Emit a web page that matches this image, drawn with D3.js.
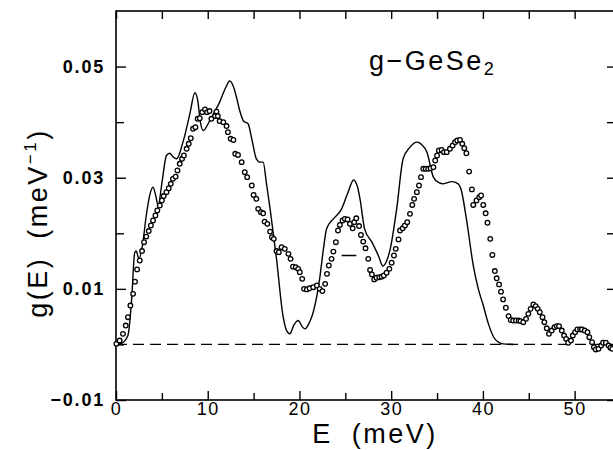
<!DOCTYPE html>
<html>
<head>
<meta charset="utf-8">
<script src="https://cdn.jsdelivr.net/npm/d3@7"></script>
<style>
  body { margin: 0; background: #fff; }
  text { font-family: "Liberation Sans", Arial, Helvetica, sans-serif; fill: #000; }
</style>
</head>
<body>
<div id="plot"></div>
<script>
// g-GeSe2 vibrational density of states
// solid line = calculation, circles = experiment

// calculated g(E)
var calcE = [0, 0.6, 1.3, 1.7, 2.04, 2.2, 2.5, 2.9, 3.3, 3.7, 4.04, 4.3, 4.6, 5.0, 5.5, 5.86, 6.2, 6.6,
  7.3, 8.04, 8.6, 8.9, 9.2, 9.5, 10.2, 10.8, 11.3, 11.9, 12.4, 12.8, 13.1, 13.5, 13.9, 14.4, 14.8,
  15.3, 15.7, 16.04, 16.4, 16.8, 17.5, 18.2, 18.6, 18.95, 19.4, 19.86, 20.3, 20.6, 21.1, 21.5, 22.2,
  22.6, 22.96, 23.7, 24.6, 25.3, 25.9, 26.3, 26.6, 27.1, 27.9, 28.6, 29.1, 29.5, 29.9, 30.6, 31.3,
  32.05, 32.8, 33.3, 33.9, 34.6, 35.2, 35.7, 36.6, 37.3, 37.6, 38.2, 38.95, 39.5, 40.04, 40.6, 41.3,
  42.2, 43.3];
var calcG = [0, 0.0002, 0.0016, 0.008, 0.0165, 0.0168, 0.0154, 0.018, 0.0232, 0.027, 0.0283, 0.027,
  0.025, 0.029, 0.034, 0.0344, 0.0338, 0.0334, 0.0364, 0.0414, 0.0453, 0.044, 0.040, 0.0385, 0.0402,
  0.042, 0.0436, 0.046, 0.0474, 0.0464, 0.0447, 0.042, 0.0402, 0.0397, 0.037, 0.0334, 0.0328, 0.0328,
  0.029, 0.0244, 0.0154, 0.0052, 0.0025, 0.0019, 0.0035, 0.0043, 0.0032, 0.0028, 0.004, 0.0058,
  0.0118, 0.017, 0.0208, 0.0226, 0.0244, 0.0274, 0.0296, 0.0285, 0.0262, 0.0208, 0.0184, 0.016,
  0.0141, 0.015, 0.0172, 0.0244, 0.0334, 0.0355, 0.0364, 0.036, 0.0346, 0.0301, 0.0291, 0.0289,
  0.0293, 0.0289, 0.028, 0.0226, 0.0142, 0.01, 0.007, 0.0037, 0.001, 0.0001, 0];

// measured g(E)
var expE = [0.04, 0.4, 0.76, 1.06, 1.3, 1.57, 1.86, 2.07, 2.3, 2.59, 2.84, 3.06, 3.3, 3.57, 3.8, 4.04,
  4.3, 4.5, 4.77, 5.0, 5.2, 5.5, 5.75, 5.97, 6.2, 6.5, 6.7, 6.95, 7.2, 7.4, 7.7, 7.93, 8.15, 8.4, 8.66,
  8.9, 9.13, 9.4, 9.7, 9.93, 10.2, 10.4, 10.8, 10.95, 11.1, 11.3, 11.7, 12.05, 12.2, 12.5, 12.8, 13.0,
  13.3, 13.7, 14.04, 14.3, 14.8, 15.0, 15.3, 15.5, 15.8, 16.04, 16.2, 16.5, 16.8, 17.0, 17.2, 17.5,
  17.75, 18.05, 18.4, 18.8, 19.03, 19.3, 19.6, 19.86, 20.04, 20.3, 20.5, 20.8, 21.1, 21.5, 21.9, 22.2,
  22.5, 22.8, 23.0, 23.2, 23.5, 23.7, 23.97, 24.2, 24.4, 24.7, 24.95, 25.25, 25.5, 25.8, 25.97, 26.2,
  26.5, 26.7, 26.95, 27.2, 27.5, 27.7, 27.9, 28.15, 28.4, 28.7, 28.96, 29.2, 29.5, 29.8, 30.05, 30.3,
  30.5, 30.8, 30.96, 31.25, 31.5, 31.75, 32.05, 32.3, 32.5, 32.8, 33.03, 33.25, 33.5, 33.76, 34.04,
  34.3, 34.6, 34.8, 35.0, 35.2, 35.5, 35.75, 36.05, 36.4, 36.7, 36.96, 37.2, 37.5, 37.75, 37.97, 38.2,
  38.5, 38.8, 38.95, 39.3, 39.6, 39.8, 40.04, 40.3, 40.5, 40.8, 41.03, 41.3, 41.5, 41.76, 41.97, 42.2,
  42.5, 42.8, 43.03, 43.3, 43.6, 43.9, 44.1, 44.4, 44.7, 44.95, 45.2, 45.5, 45.76, 45.98, 46.2, 46.5,
  46.7, 46.96, 47.2, 47.5, 47.8, 48.05, 48.3, 48.6, 48.85, 49.07, 49.3, 49.6, 49.8, 50.05, 50.3, 50.6,
  50.8, 51.1, 51.4, 51.6, 51.9, 52.1, 52.3, 52.6, 52.9, 53.1, 53.4, 53.7, 53.9, 54.1];
var expG = [0.0001, 0.0007, 0.0019, 0.0034, 0.0049, 0.007, 0.0091, 0.0113, 0.0135, 0.0151, 0.0168,
  0.0184, 0.0194, 0.0204, 0.0214, 0.0223, 0.0232, 0.0241, 0.025, 0.0259, 0.0267, 0.0274, 0.0281,
  0.0289, 0.0298, 0.0302, 0.0313, 0.0325, 0.0334, 0.034, 0.0352, 0.0361, 0.0371, 0.0388, 0.0391,
  0.0406, 0.0407, 0.0418, 0.0423, 0.0418, 0.042, 0.0406, 0.0411, 0.0419, 0.0411, 0.0402, 0.04,
  0.0393, 0.0382, 0.037, 0.0368, 0.0343, 0.0341, 0.0328, 0.031, 0.0301, 0.0286, 0.0269, 0.0262,
  0.0244, 0.0238, 0.0236, 0.0221, 0.0217, 0.0203, 0.0193, 0.019, 0.0168, 0.0166, 0.0175, 0.0172,
  0.0163, 0.0154, 0.014, 0.0139, 0.0136, 0.013, 0.0118, 0.01, 0.0099, 0.0101, 0.0103, 0.0106, 0.01,
  0.0096, 0.0109, 0.0127, 0.0142, 0.0154, 0.0167, 0.0184, 0.0205, 0.0215, 0.0223, 0.0226, 0.0225,
  0.0217, 0.0209, 0.022, 0.0227, 0.0213, 0.0197, 0.0185, 0.0173, 0.0154, 0.0134, 0.0126, 0.0117,
  0.012, 0.0121, 0.0122, 0.0124, 0.0129, 0.0136, 0.0147, 0.016, 0.0172, 0.0189, 0.0205, 0.0209,
  0.0214, 0.022, 0.0235, 0.0251, 0.0262, 0.0274, 0.0286, 0.0301, 0.0316, 0.0316, 0.0316, 0.0317,
  0.0319, 0.0331, 0.034, 0.0349, 0.035, 0.0346, 0.0346, 0.0352, 0.0358, 0.0364, 0.0367, 0.0368,
  0.0361, 0.0353, 0.0344, 0.0311, 0.0279, 0.0251, 0.0259, 0.0265, 0.0268, 0.0251, 0.0236, 0.0219,
  0.019, 0.0161, 0.0132, 0.0119, 0.0108, 0.0095, 0.0081, 0.0066, 0.0051, 0.0044, 0.0043, 0.0043,
  0.0043, 0.0042, 0.004, 0.0046, 0.0055, 0.0064, 0.0072, 0.0069, 0.0064, 0.0058, 0.0049, 0.004,
  0.0029, 0.0019, 0.0025, 0.0031, 0.0033, 0.0033, 0.0025, 0.0016, 0.001, 0.0003, 0.0007, 0.0016,
  0.0022, 0.0027, 0.0027, 0.0027, 0.0025, 0.0022, 0.0013, 0.0004, -0.0005, -0.0009, -0.0008,
  -0.0002, 0.0003, 0.0003, -0.0002, -0.0006, -0.0008];

// short horizontal marker inside the plot
var markE = [24.6, 26.2];
var markG = [0.016, 0.016];

// ticks
var xLabelTicks = [0, 10, 20, 30, 40, 50];
var xMinorTicks = [5, 15, 25, 35, 45];
var yLabelTicks = [-0.01, 0.01, 0.03, 0.05];
var yMinorTicks = [0.0, 0.02, 0.04];

// dimensions
var margin = {top: 11, right: -2, bottom: 50, left: 116};
const width = 613;
const height = 450;

const x = d3.scaleLinear().domain([0, 54.4]).range([margin.left, width - margin.right]);
const y = d3.scaleLinear().domain([-0.01, 0.06]).range([height - margin.bottom, margin.top]);

// svg container
const svg = d3.select("#plot")
    .append("svg")
    .attr("width", width)
    .attr("height", height);

// frame
svg.append("rect")
    .attr("x", x(0))
    .attr("y", y(0.06))
    .attr("width", x(54.4) - x(0))
    .attr("height", y(-0.01) - y(0.06))
    .attr("fill", "none")
    .attr("stroke", "#000")
    .attr("stroke-width", 1.6);

// axes, ticks pointing in
function styleAxis(g) {
    g.select(".domain").remove();
    g.selectAll(".tick line").attr("stroke", "#000").attr("stroke-width", 1.4);
}

svg.append("g")
    .attr("transform", "translate(0," + y(-0.01) + ")")
    .call(d3.axisBottom(x).tickValues(xLabelTicks).tickSize(-9).tickPadding(2).tickFormat(d3.format("d")))
    .call(styleAxis)
    .selectAll("text")
    .attr("font-size", "18px")
    .attr("letter-spacing", "1.5px");

svg.append("g")
    .attr("transform", "translate(0," + y(-0.01) + ")")
    .call(d3.axisBottom(x).tickValues(xMinorTicks).tickSize(-7).tickFormat(""))
    .call(styleAxis);

svg.append("g")
    .attr("transform", "translate(0," + y(0.06) + ")")
    .call(d3.axisTop(x).tickValues(xLabelTicks.concat(xMinorTicks)).tickSize(-8).tickFormat(""))
    .call(styleAxis);

svg.append("g")
    .attr("transform", "translate(" + x(0) + ",0)")
    .call(d3.axisLeft(y).tickValues(yLabelTicks).tickSize(-10).tickPadding(11)
        .tickFormat(function(d) { return d < 0 ? "\u22120.01" : d3.format(".2f")(d); }))
    .call(styleAxis)
    .selectAll("text")
    .attr("font-size", "18px")
    .attr("font-weight", "bold")
    .attr("letter-spacing", "1.8px");

svg.append("g")
    .attr("transform", "translate(" + x(0) + ",0)")
    .call(d3.axisLeft(y).tickValues(yMinorTicks).tickSize(-8).tickFormat(""))
    .call(styleAxis);

svg.append("g")
    .attr("transform", "translate(" + x(54.4) + ",0)")
    .call(d3.axisRight(y).tickValues(yLabelTicks.concat(yMinorTicks)).tickSize(-8).tickFormat(""))
    .call(styleAxis);

// zero line
svg.append("line")
    .attr("x1", x(0))
    .attr("x2", x(54.4))
    .attr("y1", y(0))
    .attr("y2", y(0))
    .attr("stroke", "#000")
    .attr("stroke-width", 1.2)
    .attr("stroke-dasharray", "11,6");

// calculated curve
var calc = calcE.map(function(e, i) { return [e, calcG[i]]; });
svg.append("path")
    .datum(calc)
    .attr("fill", "none")
    .attr("stroke", "#000")
    .attr("stroke-width", 1.4)
    .attr("d", d3.line()
        .x(function(d) { return x(d[0]); })
        .y(function(d) { return y(d[1]); })
        .curve(d3.curveMonotoneX));

// measured points
var exp = expE.map(function(e, i) { return [e, expG[i]]; });
svg.append("g")
    .selectAll("circle")
    .data(exp)
    .join("circle")
    .attr("cx", function(d) { return x(d[0]); })
    .attr("cy", function(d) { return y(d[1]); })
    .attr("r", 2.3)
    .attr("fill", "#fff")
    .attr("stroke", "#000")
    .attr("stroke-width", 1.3);

svg.append("line")
    .attr("x1", x(markE[0]))
    .attr("x2", x(markE[1]))
    .attr("y1", y(markG[0]))
    .attr("y2", y(markG[1]))
    .attr("stroke", "#000")
    .attr("stroke-width", 1.5);

// title
var title = svg.append("text")
    .attr("x", 369)
    .attr("y", 70)
    .attr("font-size", "27px")
    .attr("letter-spacing", "2.5px")
    .text("g\u2212GeSe");
title.append("tspan")
    .attr("font-size", "18px")
    .attr("dy", 5)
    .text("2");

// axis titles
svg.append("text")
    .attr("x", 375)
    .attr("y", 443)
    .attr("text-anchor", "middle")
    .attr("font-size", "27px")
    .attr("letter-spacing", "2.5px")
    .attr("word-spacing", "9px")
    .text("E (meV)");

var ylab = svg.append("text")
    .attr("transform", "translate(47,223) rotate(-90)")
    .attr("text-anchor", "middle")
    .attr("font-size", "27px")
    .attr("letter-spacing", "2.5px")
    .attr("word-spacing", "8px")
    .text("g(E) (meV");
ylab.append("tspan")
    .attr("font-size", "17px")
    .attr("dy", -11)
    .text("\u22121");
ylab.append("tspan")
    .attr("dy", 11)
    .text(")");
</script>
</body>
</html>
